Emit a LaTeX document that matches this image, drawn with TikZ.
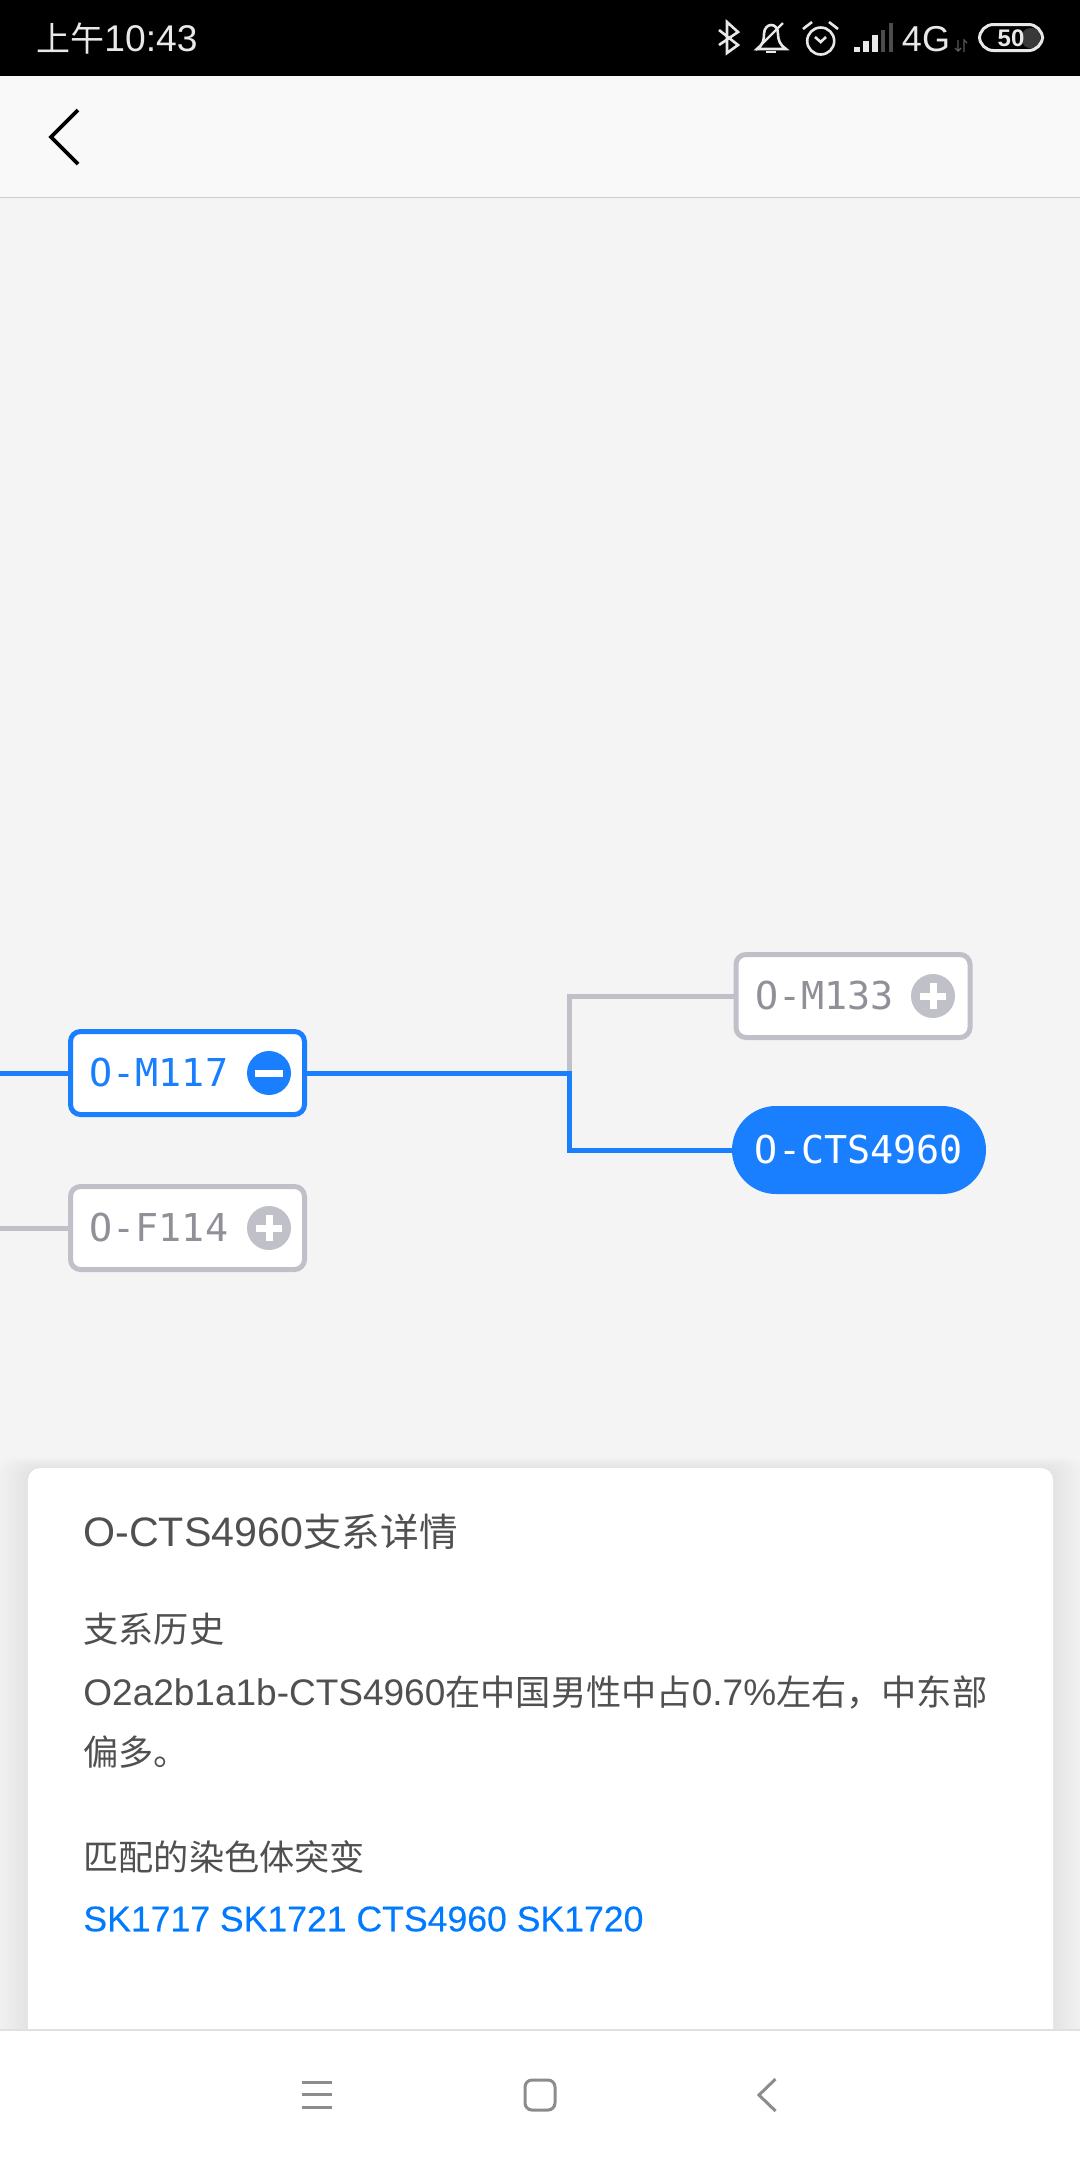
\documentclass[tikz,border=0pt]{standalone}
\usepackage{fontspec}
\setmainfont{Liberation Sans}
\setmonofont{DejaVu Sans Mono}
\newfontfamily\cjk{Noto Sans CJK SC}
\newfontfamily\linkfont[FakeBold=0.25]{Liberation Sans}
\definecolor{treeblue}{HTML}{1A7FFF}
\definecolor{treegray}{HTML}{C0C0C8}
\definecolor{labelgray}{HTML}{909099}
\definecolor{pagebg}{HTML}{F4F4F5}
\definecolor{barbg}{HTML}{F9F9F9}
\definecolor{bodytext}{HTML}{505050}
\definecolor{linkblue}{HTML}{007AFF}
\definecolor{statuswhite}{HTML}{E8E8E8}
\definecolor{navgray}{HTML}{8C8C8C}
\newcommand{\zh}[1]{{\cjk\fontsize{17.6}{17.6}\selectfont #1}}

\begin{document}
\begin{tikzpicture}[x=0.5pt, y=-0.5pt, line join=miter]
        \tikzstyle{branch}=[draw, fill=white, line width=2.5pt, rounded corners=5pt, inner xsep=9.5pt, inner ysep=0pt, text width=98pt, align=left, minimum height=41.5pt, font=\ttfamily\fontsize{19.2}{19.2}\selectfont]
        \tikzstyle{grayBranch}=[branch, draw=treegray, text=labelgray]
        \tikzstyle{blueBranch}=[branch, draw=treeblue, text=treeblue]
        \tikzstyle{activeBranch}=[fill=treeblue, text=white, rounded corners=22pt, minimum width=127pt, minimum height=44pt, inner sep=0pt, font=\ttfamily\fontsize{19.2}{19.2}\selectfont]
        \tikzstyle{icon}=[circle, inner sep=0pt, minimum size=22pt]
        \tikzstyle{iconbar}=[white, line width=3.5pt]
        \tikzstyle{grayLine}=[draw=treegray, line width=2.5pt]
        \tikzstyle{blueLine}=[draw=treeblue, line width=2.5pt]
        \tikzstyle{cardtext}=[anchor=west, inner sep=0pt, text=bodytext, font=\fontsize{18.5}{18.5}\selectfont]
        \tikzstyle{statusline}=[statuswhite, line width=1.3pt]
        \tikzstyle{navline}=[navgray, line width=1.5pt]

        \useasboundingbox (0,0) rectangle (1080,2160);
        \fill[pagebg] (0,0) rectangle (1080,2160);

        % Barras
        \fill[black] (0,0) rectangle (1080,76);
        \fill[barbg] (0,76) rectangle (1080,197);
        \draw[treegray!80, line width=0.6pt] (0,197.5) -- (1080,197.5);
        \draw[black, line width=1.8pt] (78,110) -- (51,137) -- (78,164);

        % Status
        \node[anchor=west, inner sep=0pt, text=statuswhite, font=\fontsize{18.6}{18.6}\selectfont] (clock) at (36,39) {{\cjk\fontsize{17}{17}\selectfont 上午}10:43};
        \draw[statusline] (719,30) -- (738,45) -- (727,53) -- (727,22) -- (738,32) -- (719,45);
        \draw[statusline] (757,49) .. controls (763,45) and (764,40) .. (764,34) .. controls (764,28) and (768,25) .. (771,25) .. controls (775,25) and (778,28) .. (778,34) .. controls (778,40) and (780,45) .. (786,49) -- cycle;
        \fill[statuswhite] (766,51) rectangle (776,53);
        \draw[statusline, line width=1.2pt] (783,23) -- (756,50);
        \draw[statusline] (820.7,41) circle (13.5);
        \draw[statusline] (803,29) -- (812,22);
        \draw[statusline] (829,22) -- (838,29);
        \draw[statusline] (815,37) -- (820.7,42) -- (826,37);
        \foreach \xa/\xb/\ytop/\barcol in {854/860/47/statuswhite, 863/869/41/statuswhite, 872/878/35/statuswhite, 881/885/30/gray!60!black, 889/893/23/gray!60!black}
            \fill[\barcol] (\xa,52) -- (\xa,\ytop) -- (\xb,\ytop) -- (\xb,52) -- cycle;
        \node[inner sep=0pt, text=statuswhite, font=\fontsize{18}{18}\selectfont] (net) at (926,39) {4G};
        \draw[gray!70!black, line width=0.7pt] (958,40) -- (958,51) (955,48) -- (958,51) -- (961,48);
        \draw[gray!70!black, line width=0.7pt] (964,52) -- (964,40) -- (967,43);
        \fill[gray!45!black, rounded corners=4pt] (1022,28) rectangle (1040,48);
        \draw[statusline, line width=1.5pt, rounded corners=7pt] (979.5,24.5) rectangle (1042.5,50.5);
        \node[inner sep=0pt, text=statuswhite, font=\bfseries\fontsize{12}{12}\selectfont] (battery) at (1011,38) {50};

        % Nos
        \node[blueBranch] (m117) at (187.5,1073) {O-M117};
        \node[grayBranch] (f114) at (187.5,1228) {O-F114};
        \node[grayBranch] (m133) at (853,996) {O-M133};
        \node[activeBranch] (cts) at (859,1150) {O-CTS4960};
        \coordinate (fork) at (569,1073);
        \coordinate (leftBlue) at (0,1073);
        \coordinate (leftGray) at (0,1228);

        % Arestas
        \draw[grayLine] (fork) |- (m133);
        \draw[grayLine] (leftGray) -- (f114);
        \draw[blueLine] (leftBlue) -- (m117);
        \draw[blueLine] (m117) -- (fork) |- (cts);

        % Icones
        \node[icon, fill=treeblue] (minus) at (269,1073) {};
        \node[icon, fill=treegray] (plusA) at (269,1228) {};
        \node[icon, fill=treegray] (plusB) at (933,996) {};
        \draw[iconbar] ([xshift=-7pt]minus.center) -- ([xshift=7pt]minus.center);
        \foreach \p in {plusA, plusB} {
            \draw[iconbar] ([xshift=-6.5pt]\p.center) -- ([xshift=6.5pt]\p.center);
            \draw[iconbar] ([yshift=-6.5pt]\p.center) -- ([yshift=6.5pt]\p.center);
        }

        % Cartao
        \foreach \s in {4,8,...,32}
            \fill[black, opacity=0.006, rounded corners=8pt] (28-\s,1468-\s/3) rectangle (1053+\s,2040);
        \fill[white, rounded corners=6pt] (28,1468) rectangle (1053,2060);
        \node[cardtext, font=\fontsize{20.6}{20.6}\selectfont] (title) at (83,1532) {O-CTS4960{\cjk\fontsize{19.3}{19.3}\selectfont 支系详情}};
        \node[cardtext] (history) at (83,1629) {\zh{支系历史}};
        \node[cardtext] (detailA) at (83,1692) {O2a2b1a1b-CTS4960\zh{在中国男性中占}0.7\%\zh{左右，中东部}};
        \node[cardtext] (detailB) at (83,1752) {\zh{偏多。}};
        \node[cardtext] (match) at (83,1857) {\zh{匹配的染色体突变}};
        \node[cardtext, text=linkblue, font=\linkfont\fontsize{17.8}{17.8}\selectfont] (links) at (83,1919) {SK1717 SK1721 CTS4960 SK1720};

        % Navegacao
        \fill[white] (0,2030) rectangle (1080,2160);
        \draw[black!12, line width=0.6pt] (0,2030) -- (1080,2030);
        \foreach \y in {2082,2094.5,2107}
            \draw[navline] (302,\y) -- (332,\y);
        \draw[navline, rounded corners=3.5pt] (525,2080) rectangle (555,2110);
        \draw[navline] (775.5,2079) -- (759,2095) -- (775.5,2111);
\end{tikzpicture}
\end{document}
